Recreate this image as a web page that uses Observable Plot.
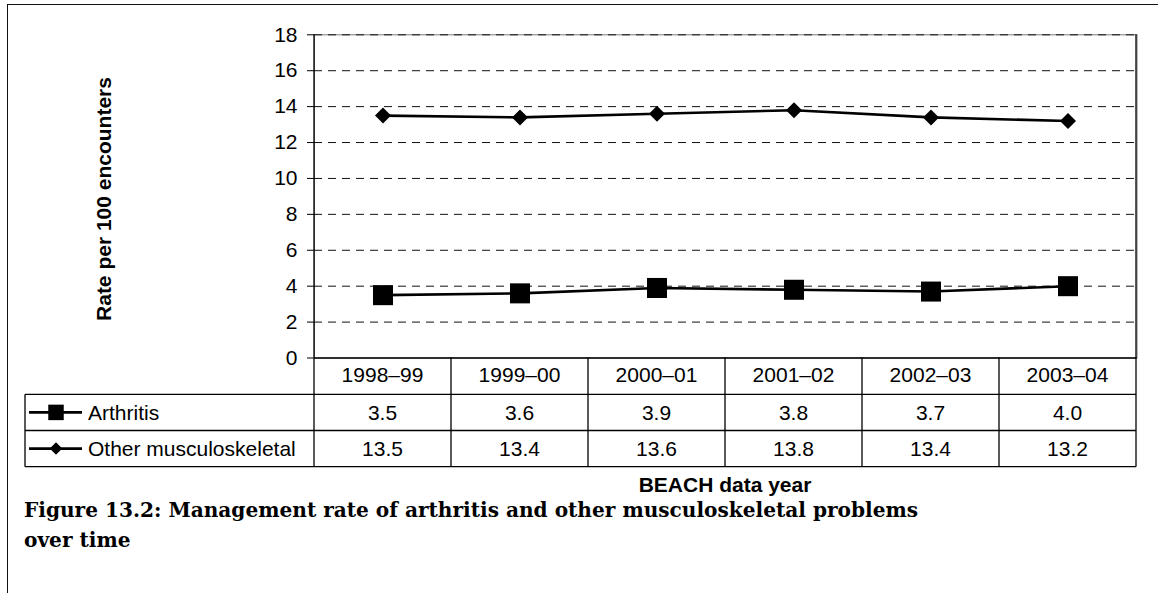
<!DOCTYPE html>
<html>
<head>
<meta charset="utf-8">
<script src="https://cdn.jsdelivr.net/npm/d3@7"></script>
<script src="https://cdn.jsdelivr.net/npm/@observablehq/plot@0.6"></script>
<style>
  html, body { margin: 0; padding: 0; background: #fff; }
  #wrap { position: relative; width: 1158px; height: 593px; overflow: hidden; background: #fff; }
  #frame { position: absolute; left: 7px; top: 4px; width: 1160px; height: 600px;
           border-left: 1.6px solid #111; border-top: 1.6px solid #111; box-sizing: border-box; }
  #chart { position: absolute; left: 0; top: 0; }
  #caption { position: absolute; left: 24px; top: 496px; width: 1120px; white-space: nowrap;
             font-family: "DejaVu Serif", "Liberation Serif", serif; font-weight: bold;
             font-size: 20px; line-height: 29.5px; color: #000; }
</style>
</head>
<body>
<div id="wrap">
  <div id="frame"></div>
  <div id="chart"></div>
  <div id="caption"><span id="cap1">Figure 13.2: Management rate of arthritis and other musculoskeletal problems</span><br>over time</div>
</div>
<script>
// ---- data ----
const years = ["1998–99", "1999–00", "2000–01", "2001–02", "2002–03", "2003–04"];
const arthritis = [3.5, 3.6, 3.9, 3.8, 3.7, 4.0];
const otherMsk = [13.5, 13.4, 13.6, 13.8, 13.4, 13.2];
const seriesNames = ["Arthritis", "Other musculoskeletal"];
const yTicks = [0, 2, 4, 6, 8, 10, 12, 14, 16, 18];
const yTitle = "Rate per 100 encounters";
const xTitle = "BEACH data year";

const seriesValues = [arthritis, otherMsk];
const rows = seriesNames.flatMap((s, si) =>
  years.map((yr, i) => ({series: s, year: yr, value: seriesValues[si][i]})));

// ---- layout ----
const W = 1158, H = 593;
const FONT = "'Liberation Sans', Arial, sans-serif";

const plot = Plot.plot({
  width: W, height: H,
  marginLeft: 314, marginRight: 21.5, marginTop: 34.3, marginBottom: H - 357.5,
  style: {fontFamily: FONT, fontSize: "21px", color: "#000", background: "transparent", overflow: "visible"},
  x: {type: "band", domain: years, padding: 0, axis: null},
  y: {domain: [0, 18], axis: null},
  marks: [
    Plot.frame({stroke: "#777", strokeWidth: 1}),
    Plot.gridY(yTicks.filter(t => t > 0), {stroke: "#111", strokeOpacity: 1, strokeWidth: 1, strokeDasharray: "8,6"}),
    Plot.axisY(yTicks, {tickSize: 7, tickPadding: 10, label: null, fontSize: 21, stroke: "#000"}),
    Plot.ruleY([0], {stroke: "#000", strokeWidth: 1.5}),
    Plot.line(rows, {x: "year", y: "value", z: "series", stroke: "#000", strokeWidth: 2.6}),
    Plot.dot(rows.filter(d => d.series === seriesNames[0]), {x: "year", y: "value", symbol: "square", r: 11.3, fill: "#000", stroke: "none"}),
    Plot.dot(rows.filter(d => d.series === seriesNames[1]), {x: "year", y: "value", symbol: "diamond2", r: 7.2, fill: "#000", stroke: "none"})
  ]
});

document.getElementById("chart").appendChild(plot);

// ---- data table below the chart, placed with the plot's own scales ----
const xs = plot.scale("x");
const ys = plot.scale("y");
const bw = xs.bandwidth;
const x0 = xs.apply(years[0]);
const x1 = xs.apply(years[years.length - 1]) + bw;
const yZero = ys.apply(0);
const rowH = 36.2;
const hdrBottom = yZero + 36.8;
const row1Bottom = hdrBottom + rowH;
const row2Bottom = row1Bottom + rowH;
const leftCol = 25;

const svg = d3.select(plot);
const g = svg.append("g").attr("stroke", "#000").attr("stroke-width", 1.3).attr("fill", "none");
g.append("line").attr("x1", x0).attr("x2", x0).attr("y1", ys.apply(18)).attr("y2", row2Bottom);
g.append("line").attr("x1", x1).attr("x2", x1).attr("y1", ys.apply(18)).attr("y2", row2Bottom);
years.forEach((yr, i) => {
  if (i === 0) return;
  const xb = xs.apply(yr);
  g.append("line").attr("x1", xb).attr("x2", xb).attr("y1", yZero).attr("y2", row2Bottom);
});
[hdrBottom, row1Bottom, row2Bottom].forEach(yy => {
  g.append("line").attr("x1", leftCol).attr("x2", x1).attr("y1", yy).attr("y2", yy);
});
g.append("line").attr("x1", leftCol).attr("x2", leftCol).attr("y1", hdrBottom).attr("y2", row2Bottom);

const t = svg.append("g").attr("font-family", FONT).attr("font-size", 21).attr("fill", "#000")
  .attr("text-anchor", "start");
years.forEach(yr => {
  t.append("text").attr("x", xs.apply(yr) + bw / 2).attr("y", hdrBottom - 12)
    .attr("text-anchor", "middle").text(yr);
});
seriesNames.forEach((s, si) => {
  const rowBottom = si === 0 ? row1Bottom : row2Bottom;
  years.forEach((yr, i) => {
    t.append("text").attr("x", xs.apply(yr) + bw / 2).attr("y", rowBottom - 10.5)
      .attr("text-anchor", "middle").text(seriesValues[si][i].toFixed(1));
  });
  const cy = rowBottom - rowH / 2;
  t.append("line").attr("x1", 29).attr("x2", 82).attr("y1", cy).attr("y2", cy)
    .attr("stroke", "#000").attr("stroke-width", 2.6);
  const sym = si === 0 ? d3.symbol(d3.symbolSquare, 240) : d3.symbol(d3.symbolDiamond2, 100);
  t.append("path").attr("d", sym()).attr("transform", `translate(56,${cy})`).attr("fill", "#000");
  t.append("text").attr("x", 88).attr("y", rowBottom - 10.5).attr("text-anchor", "start").text(s);
});

t.append("text").attr("font-weight", "bold")
  .attr("transform", `translate(111,199) rotate(-90)`)
  .attr("text-anchor", "middle").text(yTitle);
t.append("text").attr("font-weight", "bold")
  .attr("x", (x0 + x1) / 2).attr("y", 492)
  .attr("text-anchor", "middle").text(xTitle);

// fit caption size so its first line spans the same width as in the original figure
const cap = document.getElementById("caption");
const cap1 = document.getElementById("cap1");
const target = 894;
const wNow = cap1.getBoundingClientRect().width;
if (wNow > 0) cap.style.fontSize = (20 * target / wNow).toFixed(2) + "px";
</script>
</body>
</html>
